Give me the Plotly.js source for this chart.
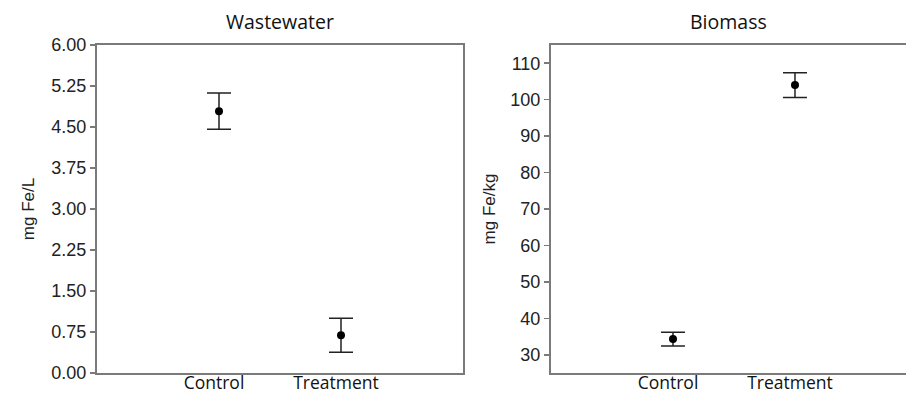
<!DOCTYPE html>
<html>
<head>
<meta charset="utf-8">
<script src="https://cdn.plot.ly/plotly-3.0.1.min.js"></script>
<style>html,body{margin:0;padding:0;background:#fff;}#chart{width:906px;height:393px;}</style>
</head>
<body>
<div id="chart"></div>
<script>
// Data
const categories = ["Control", "Treatment"];
const wastewaterMean = [4.79, 0.69];
const wastewaterErr = [0.33, 0.31];
const biomassMean = [34.3, 104.0];
const biomassErr = [1.9, 3.4];
const wastewaterTicks = [0, 0.75, 1.5, 2.25, 3, 3.75, 4.5, 5.25, 6];
const biomassTicks = [30, 40, 50, 60, 70, 80, 90, 100, 110];
const panelTitles = ["Wastewater", "Biomass"];
const yTitles = ["mg Fe/L", "mg Fe/kg"];

const W = 906, H = 393;
const frameColor = "#7a7a7a";
const numFont = {family: "Liberation Sans, Arial, sans-serif", size: 18, color: "#222"};
const txtFont = {family: "Open Sans, sans-serif", size: 17.5, color: "#111"};

const xpos = categories.map((c, i) => i);

const traces = [
  {
    x: xpos, y: wastewaterMean, type: "scatter", mode: "markers",
    marker: {color: "#000", size: 8},
    error_y: {type: "data", array: wastewaterErr, visible: true, color: "#222", thickness: 1.5, width: 12},
    xaxis: "x", yaxis: "y", hoverinfo: "skip"
  },
  {
    x: xpos, y: biomassMean, type: "scatter", mode: "markers",
    marker: {color: "#000", size: 8},
    error_y: {type: "data", array: biomassErr, visible: true, color: "#222", thickness: 1.5, width: 12},
    xaxis: "x2", yaxis: "y2", hoverinfo: "skip"
  }
];

const yDom = [20 / H, 348 / H];
const xCommon = {
  tickmode: "array", tickvals: xpos, ticktext: categories,
  showgrid: false, zeroline: false, showline: true, linecolor: frameColor, linewidth: 2,
  ticks: "", tickfont: txtFont, ticklabelstandoff: -7, ticklabelshift: -5, fixedrange: true
};
const yCommon = {
  showgrid: false, zeroline: false, showline: true, linecolor: frameColor, linewidth: 2,
  ticks: "outside", ticklen: 5, tickwidth: 1.5, tickcolor: frameColor, tickfont: numFont,
  tickmode: "array"
};

const layout = {
  width: W, height: H,
  margin: {l: 0, r: 0, t: 0, b: 0},
  paper_bgcolor: "#fff", plot_bgcolor: "#fff",
  showlegend: false,
  xaxis: Object.assign({}, xCommon, {domain: [97 / W, 463 / W], range: [-1, 2], anchor: "y", mirror: true}),
  yaxis: Object.assign({}, yCommon, {domain: yDom, range: [0, 6], anchor: "x", mirror: true,
    tickvals: wastewaterTicks, ticktext: wastewaterTicks.map(v => v.toFixed(2)),
    title: {text: yTitles[0], font: {family: "Liberation Sans, Arial, sans-serif", size: 17, color: "#222"}, standoff: 12}}),
  xaxis2: Object.assign({}, xCommon, {domain: [551 / W, 1], range: [-1, 1.91], anchor: "y2", mirror: true}),
  yaxis2: Object.assign({}, yCommon, {domain: yDom, range: [25, 115], anchor: "x2", mirror: false,
    tickvals: biomassTicks, ticktext: biomassTicks.map(String),
    title: {text: yTitles[1], font: {family: "Liberation Sans, Arial, sans-serif", size: 17, color: "#222"}, standoff: 10}}),
  annotations: [
    {text: panelTitles[0], xref: "x domain", yref: "paper", x: 0.5, y: 1 - 22 / H, yanchor: "middle", showarrow: false, font: Object.assign({}, txtFont, {size: 19.5})},
    {text: panelTitles[1], xref: "x2 domain", yref: "paper", x: 0.5, y: 1 - 22 / H, yanchor: "middle", showarrow: false, font: Object.assign({}, txtFont, {size: 19.5})}
  ]
};

Plotly.newPlot("chart", traces, layout, {displayModeBar: false, staticPlot: true});
</script>
</body>
</html>
